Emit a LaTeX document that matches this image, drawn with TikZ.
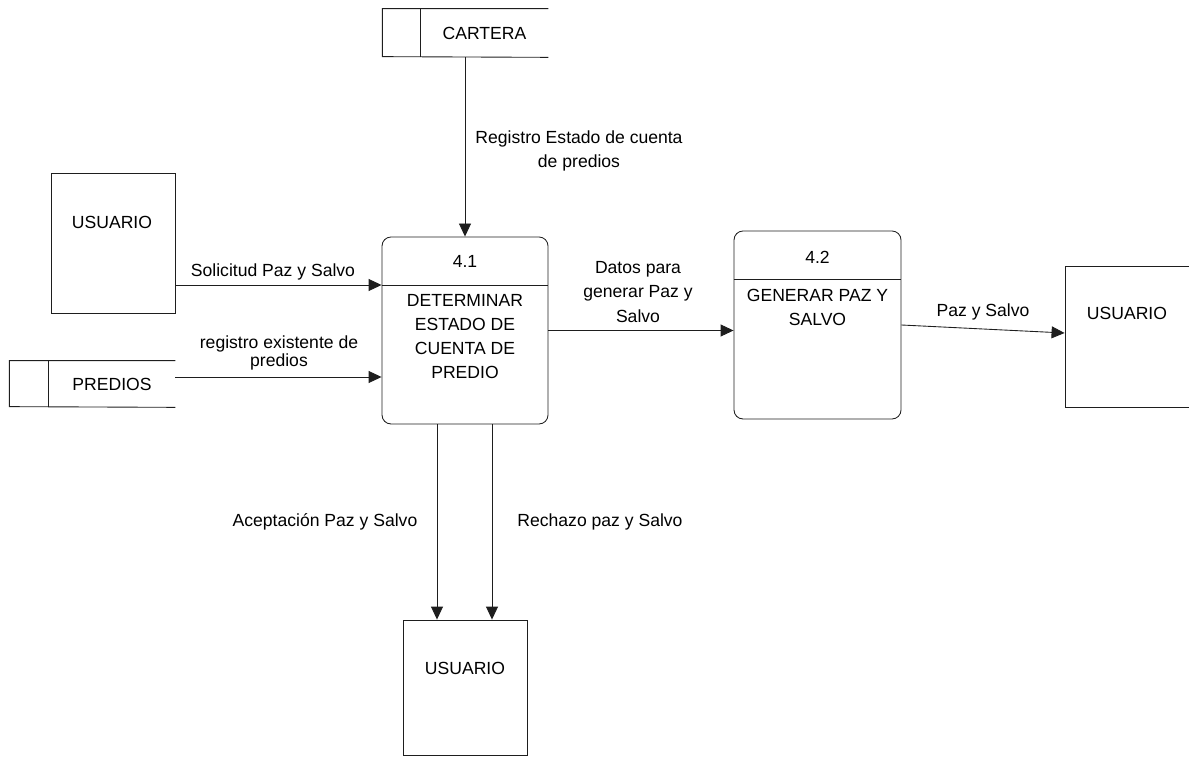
\documentclass[tikz,border=0pt]{standalone}
\usepackage{fontspec}
\setmainfont{Liberation Sans}
\usepackage{tikz}
\usetikzlibrary{arrows.meta, positioning, calc}
\definecolor{dfdline}{RGB}{30, 30, 30}

\begin{document}
\begin{tikzpicture}[every node/.style={font=\fontsize{10}{13.7}\selectfont},
  flow/.style={-{Triangle[length=0.26cm, width=0.24cm]}, dfdline, line width=0.5pt},
  proc/.style={draw=dfdline, line width=0.5pt, rounded corners=0.18cm, minimum width=3.32cm, minimum height=3.74cm},
  ent/.style={draw=dfdline, line width=0.5pt, minimum width=2.48cm, minimum height=2.8cm},
  store/.style={minimum width=2.54cm, minimum height=0.96cm, inner sep=0pt}]
\useasboundingbox (0,0) rectangle (23.78,15.12);
\node[store] (cartera) at (9.69,14.46) {CARTERA};
\draw[dfdline, line width=0.5pt] (cartera.north east) -- ++(-3.32,0) -- ++(0,-0.96) -- (cartera.south east);
\draw[dfdline, line width=0.5pt] (cartera.north west) -- (cartera.south west);
\node[store, minimum width=2.52cm, minimum height=0.92cm] (predios) at (2.24,7.44) {PREDIOS};
\draw[dfdline, line width=0.5pt] (predios.north east) -- ++(-3.32,0) -- ++(0,-0.92) -- (predios.south east);
\draw[dfdline, line width=0.5pt] (predios.north west) -- (predios.south west);
\node[proc] (p41) at (9.3,8.51) {};
\node (n41) at (9.3,9.9) {4.1};
\coordinate (d41) at (9.3,9.42);
\draw[dfdline, line width=0.5pt] (p41.west |- d41) -- (p41.east |- d41);
\node[align=center] (t41) at (9.3,8.39) {DETERMINAR\\ESTADO DE\\CUENTA DE\\PREDIO};
\node[proc, minimum width=3.34cm, minimum height=3.76cm] (p42) at (16.35,8.62) {};
\node (n42) at (16.35,9.98) {4.2};
\coordinate (d42) at (16.35,9.54);
\draw[dfdline, line width=0.5pt] (p42.west |- d42) -- (p42.east |- d42);
\node[align=center] (t42) at (16.35,8.98) {GENERAR PAZ Y\\SALVO};
\node[ent] (u1) at (2.26,10.26) {};
\node (tu1) at (2.24,10.68) {USUARIO};
\node[ent, minimum width=2.6cm, minimum height=2.82cm] (u2) at (22.6,8.39) {};
\node (tu2) at (22.54,8.86) {USUARIO};
\node[ent, minimum height=2.7cm] (u3) at (9.3,1.37) {};
\node (tu3) at (9.3,1.76) {USUARIO};
\draw[flow] (cartera.south -| p41.north) -- (p41.north);
\draw[flow] (u1.east |- d41) -- (p41.west |- d41);
\draw[flow] ([yshift=1.4mm]predios.east) -- ([yshift=1.4mm]predios.east -| p41.west);
\draw[flow] (p41.east) -- (p41.east -| p42.west);
\draw[flow] (p42.east) -- ([yshift=0.7mm]u2.west);
\draw[flow] ([xshift=-5.6mm]p41.south) -- ([xshift=-5.6mm]p41.south |- u3.north);
\draw[flow] ([xshift=5.4mm]p41.south) -- ([xshift=5.4mm]p41.south |- u3.north);
\node (lsol) at (5.46,9.68) {Solicitud Paz y Salvo};
\node[align=center, font=\fontsize{10}{10.2}\selectfont] (lreg) at (5.58,8.06) {registro existente de\\predios};
\node[align=center] (ldat) at (12.76,9.28) {Datos para\\generar Paz y\\Salvo};
\node[align=center] (lcar) at (11.58,12.1) {Registro Estado de cuenta\\de predios};
\node (lpaz) at (19.66,8.88) {Paz y Salvo};
\node (lace) at (6.5,4.68) {Aceptación Paz y Salvo};
\node (lrec) at (12.0,4.68) {Rechazo paz y Salvo};
\end{tikzpicture}
\end{document}
